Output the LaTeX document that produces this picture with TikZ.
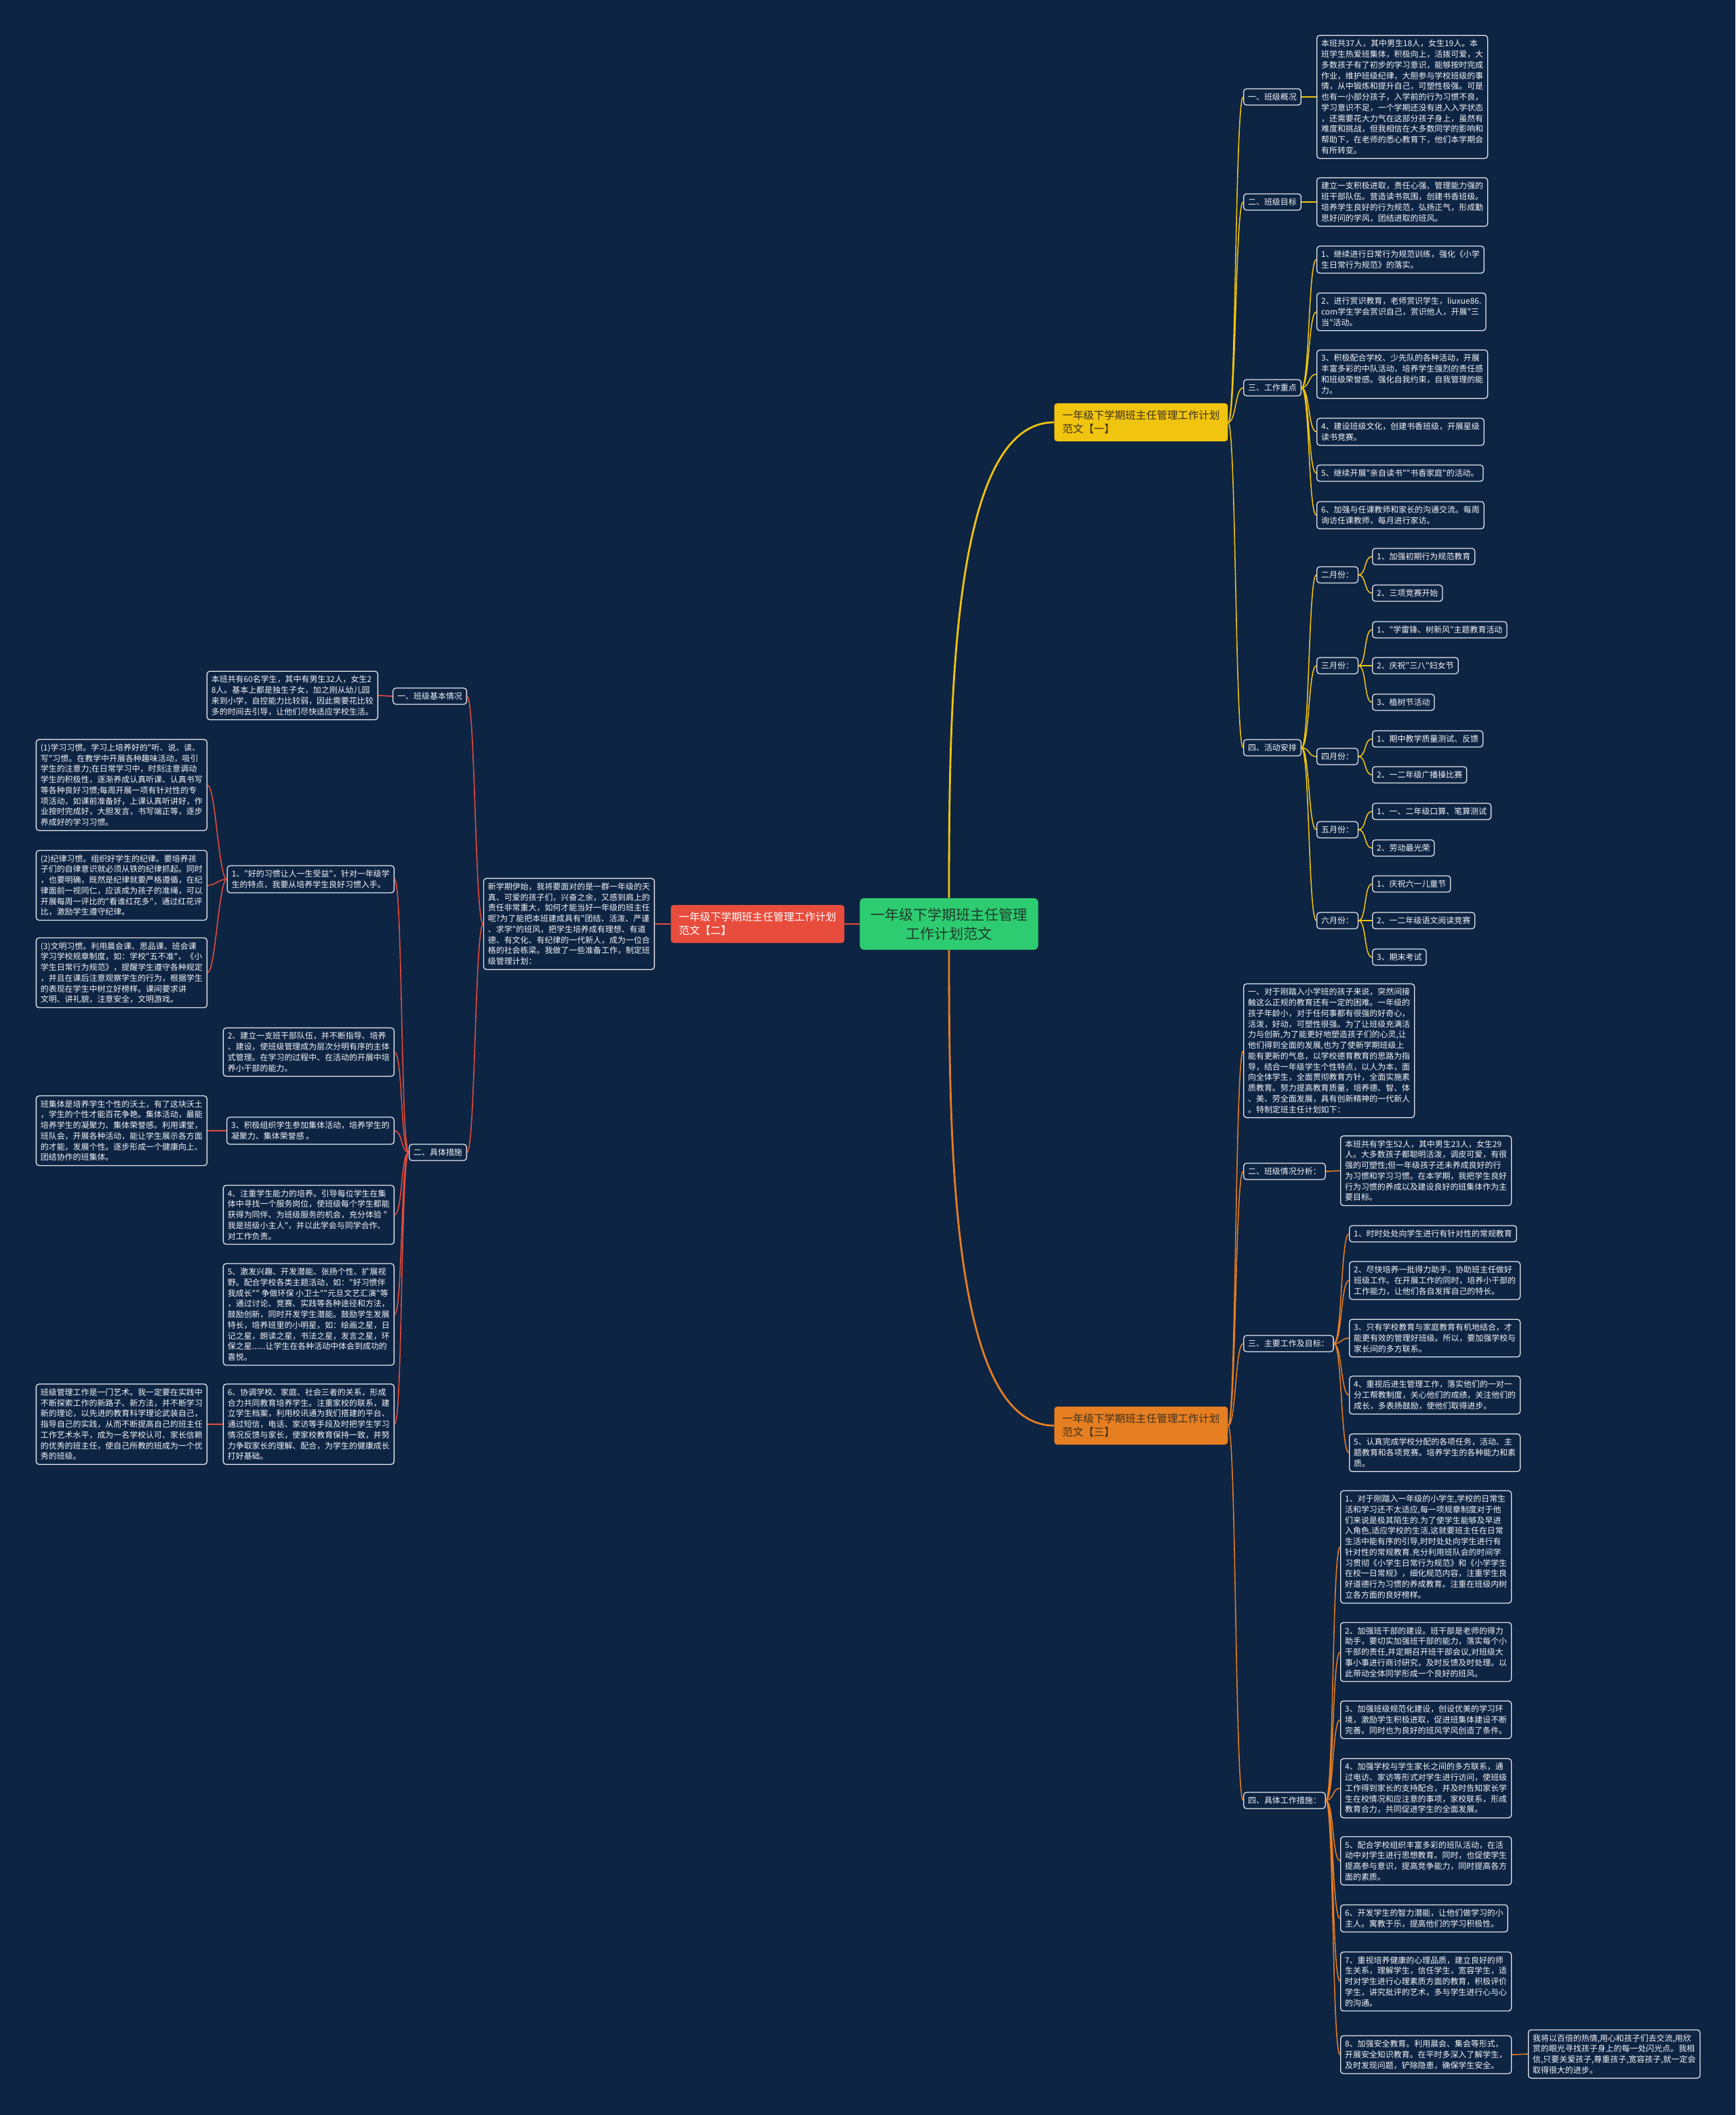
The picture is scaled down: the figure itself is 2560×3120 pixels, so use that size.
\documentclass[tikz,border=0pt]{standalone}
\usepackage{fontspec}
\newfontfamily\cjk{Noto Sans CJK SC}
\newcommand\leaffont{\cjk\fontsize{8.5pt}{11.2pt}\selectfont}
\newcommand\branchfont{\cjk\fontsize{11pt}{14.2pt}\selectfont}
\newcommand\rootfont{\cjk\fontsize{15pt}{19.9pt}\selectfont}

\begin{document}
\begin{tikzpicture}[
  x=0.025cm, y=-0.025cm,
  leaf/.style={draw=boxline, fill=bg, rounded corners=3pt, line width=0.9pt,
               text=leaftext, align=left, inner xsep=4.6pt, inner ysep=4.6pt,
               font=\leaffont},
  branch/.style={fill=#1, rounded corners=3pt, align=left,
                 minimum width=6.4cm, minimum height=1.4cm, font=\branchfont},
  trunk/.style={draw=#1, line width=2pt},
  rlink/.style={draw=#1, line width=1.1pt,
    to path={(\tikztostart.east) .. controls +(12,0) and +(-12,0) .. (\tikztotarget.west)}},
  llink/.style={draw=#1, line width=1.1pt,
    to path={(\tikztostart.west) .. controls +(-12,0) and +(12,0) .. (\tikztotarget.east)}},
]
\definecolor{bg}{HTML}{0E2443}
\definecolor{boxline}{HTML}{E6E9EE}
\definecolor{leaftext}{HTML}{F4F6F8}
\definecolor{rootgreen}{HTML}{2ECC71}
\definecolor{roottext}{HTML}{1E3B2B}
\definecolor{plany}{HTML}{F1C40F}
\definecolor{planr}{HTML}{E74C3C}
\definecolor{plano}{HTML}{E67E22}
\definecolor{darktext}{HTML}{3A3220}

% ── Background ──
\fill[bg] (0,0) rectangle (2560,3120);
\useasboundingbox (0,0) rectangle (2560,3120);

% ── Root ──
\node[fill=rootgreen, rounded corners=4pt, minimum width=6.575cm,
      minimum height=1.9cm, align=center, text=roottext, font=\rootfont]
  (root) at (1400,1363) {一年级下学期班主任管理\\工作计划范文};

% ── Three plans ──
\node[branch=plany, text=darktext, anchor=west] (fa) at (1555,623)
  {一年级下学期班主任管理工作计划\\范文【一】};
\node[branch=planr, text=white, anchor=east] (fb) at (1246,1363)
  {一年级下学期班主任管理工作计划\\范文【二】};
\node[branch=plano, text=darktext, anchor=west] (fc) at (1555,2103)
  {一年级下学期班主任管理工作计划\\范文【三】};

\draw[trunk=plany] (root.north) .. controls +(0,-300) and +(-150,0) .. (fa.west);
\draw[trunk=planr] (root.west) -- (fb.east);
\draw[trunk=plano] (root.south) .. controls +(0,300) and +(-150,0) .. (fc.west);

% ── Plan 一 ──
\node[leaf, anchor=west] (a1) at (1834,143) {一、班级概况};
\node[leaf, anchor=west] (a1t) at (1942,143)
  {本班共37人，其中男生18人，女生19人。本\\
   班学生热爱班集体，积极向上，活拨可爱，大\\
   多数孩子有了初步的学习意识，能够按时完成\\
   作业，维护班级纪律，大胆参与学校班级的事\\
   情，从中锻炼和提升自己，可塑性极强。可是\\
   也有一小部分孩子，入学前的行为习惯不良，\\
   学习意识不足，一个学期还没有进入入学状态\\
   ，还需要花大力气在这部分孩子身上，虽然有\\
   难度和挑战，但我相信在大多数同学的影响和\\
   帮助下，在老师的悉心教育下，他们本学期会\\
   有所转变。};
\node[leaf, anchor=west] (a2) at (1834,298) {二、班级目标};
\node[leaf, anchor=west] (a2t) at (1942,298)
  {建立一支积极进取，责任心强、管理能力强的\\
   班干部队伍。营造读书氛围，创建书香班级。\\
   培养学生良好的行为规范，弘扬正气，形成勤\\
   思好问的学风，团结进取的班风。};
\node[leaf, anchor=west] (a3) at (1834,572) {三、工作重点};
\node[leaf, anchor=west] (a3t1) at (1942,383)
  {1、继续进行日常行为规范训练，强化《小学\\生日常行为规范》的落实。};
\node[leaf, anchor=west] (a3t2) at (1942,460)
  {2、进行赏识教育，老师赏识学生，liuxue86.\\com学生学会赏识自己，赏识他人，开展"三\\当"活动。};
\node[leaf, anchor=west] (a3t3) at (1942,552)
  {3、积极配合学校、少先队的各种活动，开展\\丰富多彩的中队活动，培养学生强烈的责任感\\和班级荣誉感。强化自我约束，自我管理的能\\力。};
\node[leaf, anchor=west] (a3t4) at (1942,637)
  {4、建设班级文化，创建书香班级，开展星级\\读书竞赛。};
\node[leaf, anchor=west] (a3t5) at (1942,698)
  {5、继续开展"亲自读书""书香家庭"的活动。};
\node[leaf, anchor=west] (a3t6) at (1942,760)
  {6、加强与任课教师和家长的沟通交流。每周\\询访任课教师，每月进行家访。};
\node[leaf, anchor=west] (a4) at (1834,1103) {四、活动安排};
\node[leaf, anchor=west] (m2) at (1942,848) {二月份：};
\node[leaf, anchor=west] (m2a) at (2024,821) {1、加强初期行为规范教育};
\node[leaf, anchor=west] (m2b) at (2024,875) {2、三项竞赛开始};
\node[leaf, anchor=west] (m3) at (1942,982) {三月份：};
\node[leaf, anchor=west] (m3a) at (2024,929) {1、"学雷锋、树新风"主题教育活动};
\node[leaf, anchor=west] (m3b) at (2024,982) {2、庆祝"三八"妇女节};
\node[leaf, anchor=west] (m3c) at (2024,1036) {3、植树节活动};
\node[leaf, anchor=west] (m4) at (1942,1116) {四月份：};
\node[leaf, anchor=west] (m4a) at (2024,1090) {1、期中教学质量测试、反馈};
\node[leaf, anchor=west] (m4b) at (2024,1143) {2、一二年级广播操比赛};
\node[leaf, anchor=west] (m5) at (1942,1224) {五月份：};
\node[leaf, anchor=west] (m5a) at (2024,1197) {1、一、二年级口算、笔算测试};
\node[leaf, anchor=west] (m5b) at (2024,1251) {2、劳动最光荣};
\node[leaf, anchor=west] (m6) at (1942,1358) {六月份：};
\node[leaf, anchor=west] (m6a) at (2024,1304) {1、庆祝六一儿童节};
\node[leaf, anchor=west] (m6b) at (2024,1358) {2、一二年级语文阅读竞赛};
\node[leaf, anchor=west] (m6c) at (2024,1412) {3、期末考试};

\draw[rlink=plany] (fa) to (a1) (fa) to (a2) (fa) to (a3) (fa) to (a4);
\draw[rlink=plany] (a1) to (a1t) (a2) to (a2t);
\draw[rlink=plany] (a3) to (a3t1) (a3) to (a3t2) (a3) to (a3t3)
                   (a3) to (a3t4) (a3) to (a3t5) (a3) to (a3t6);
\draw[rlink=plany] (a4) to (m2) (a4) to (m3) (a4) to (m4) (a4) to (m5) (a4) to (m6);
\draw[rlink=plany] (m2) to (m2a) (m2) to (m2b);
\draw[rlink=plany] (m3) to (m3a) (m3) to (m3b) (m3) to (m3c);
\draw[rlink=plany] (m4) to (m4a) (m4) to (m4b);
\draw[rlink=plany] (m5) to (m5a) (m5) to (m5b);
\draw[rlink=plany] (m6) to (m6a) (m6) to (m6b) (m6) to (m6c);

% ── Plan 二 ──
\node[leaf, anchor=east] (bi) at (966,1363)
  {新学期伊始，我将要面对的是一群一年级的天\\
   真、可爱的孩子们，兴奋之余，又感到肩上的\\
   责任非常重大，如何才能当好一年级的班主任\\
   呢?为了能把本班建成具有"团结、活泼、严谨\\
   、求学"的班风，把学生培养成有理想、有道\\
   德、有文化、有纪律的一代新人，成为一位合\\
   格的社会栋梁。我做了一些准备工作，制定班\\
   级管理计划：};
\node[leaf, anchor=east] (b1) at (689,1027) {一、班级基本情况};
\node[leaf, anchor=east] (b1t) at (558,1026)
  {本班共有60名学生，其中有男生32人，女生2\\
   8人。基本上都是独生子女，加之刚从幼儿园\\
   来到小学，自控能力比较弱，因此需要花比较\\
   多的时间去引导，让他们尽快适应学校生活。};
\node[leaf, anchor=east] (b2) at (689,1700) {二、具体措施};
\node[leaf, anchor=east] (b2t1) at (582,1297)
  {1、"好的习惯让人一生受益"，针对一年级学\\
   生的特点，我要从培养学生良好习惯入手。};
\node[leaf, anchor=east] (b2h1) at (306,1158)
  {(1)学习习惯。学习上培养好的"听、说、读、\\
   写"习惯。在教学中开展各种趣味活动，吸引\\
   学生的注意力;在日常学习中，时刻注意调动\\
   学生的积极性，逐渐养成认真听课、认真书写\\
   等各种良好习惯;每周开展一项有针对性的专\\
   项活动，如课前准备好，上课认真听讲好，作\\
   业按时完成好，大胆发言，书写端正等，逐步\\
   养成好的学习习惯。};
\node[leaf, anchor=east] (b2h2) at (306,1306)
  {(2)纪律习惯。组织好学生的纪律。要培养孩\\
   子们的自律意识就必须从铁的纪律抓起。同时\\
   ，也要明确，既然是纪律就要严格遵循，在纪\\
   律面前一视同仁，应该成为孩子的准绳，可以\\
   开展每周一评比的"看谁红花多"，通过红花评\\
   比，激励学生遵守纪律。};
\node[leaf, anchor=east] (b2h3) at (306,1435)
  {(3)文明习惯。利用晨会课、思品课、班会课\\
   学习学校规章制度，如：学校"五不准"，《小\\
   学生日常行为规范》，提醒学生遵守各种规定\\
   ，并且在课后注意观察学生的行为，根据学生\\
   的表现在学生中树立好榜样。课间要求讲\\
   文明、讲礼貌，注意安全，文明游戏。};
\node[leaf, anchor=east] (b2t2) at (582,1552)
  {2、建立一支班干部队伍，并不断指导、培养\\
   、建设，使班级管理成为层次分明有序的主体\\
   式管理。在学习的过程中、在活动的开展中培\\
   养小干部的能力。};
\node[leaf, anchor=east] (b2t3) at (582,1668)
  {3、积极组织学生参加集体活动，培养学生的\\
   凝聚力、集体荣誉感 。};
\node[leaf, anchor=east] (b2t3x) at (306,1668)
  {班集体是培养学生个性的沃土，有了这块沃土\\
   ，学生的个性才能百花争艳。集体活动，最能\\
   培养学生的凝聚力、集体荣誉感。利用课堂，\\
   班队会，开展各种活动，能让学生展示各方面\\
   的才能，发展个性。逐步形成一个健康向上、\\
   团结协作的班集体。};
\node[leaf, anchor=east] (b2t4) at (582,1792)
  {4、注重学生能力的培养。引导每位学生在集\\
   体中寻找一个服务岗位，使班级每个学生都能\\
   获得为同伴、为班级服务的机会，充分体验 "\\
   我是班级小主人"，并以此学会与同学合作、\\
   对工作负责。};
\node[leaf, anchor=east] (b2t5) at (582,1939)
  {5、激发兴趣、开发潜能、张扬个性、扩展视\\
   野。配合学校各类主题活动，如："好习惯伴\\
   我成长"" 争做环保 小卫士""元旦文艺汇演"等\\
   ，通过讨论、竞赛、实践等各种途径和方法，\\
   鼓励创新，同时开发学生潜能。鼓励学生发展\\
   特长，培养班里的小明星，如：绘画之星，日\\
   记之星，朗读之星，书法之星，发言之星，环\\
   保之星......让学生在各种活动中体会到成功的\\
   喜悦。};
\node[leaf, anchor=east] (b2t6) at (582,2101)
  {6、协调学校、家庭、社会三者的关系，形成\\
   合力共同教育培养学生。注重家校的联系，建\\
   立学生档案，利用校讯通为我们搭建的平台、\\
   通过短信，电话、家访等手段及时把学生学习\\
   情况反馈与家长，使家校教育保持一致，并努\\
   力争取家长的理解、配合，为学生的健康成长\\
   打好基础。};
\node[leaf, anchor=east] (b2t6x) at (306,2101)
  {班级管理工作是一门艺术。我一定要在实践中\\
   不断探索工作的新路子、新方法，并不断学习\\
   新的理论，以先进的教育科学理论武装自己，\\
   指导自己的实践，从而不断提高自己的班主任\\
   工作艺术水平，成为一名学校认可、家长信赖\\
   的优秀的班主任，使自己所教的班成为一个优\\
   秀的班级。};

\draw[trunk=planr] (fb.west) -- (bi.east);
\draw[llink=planr] (bi) to (b1) (bi) to (b2);
\draw[llink=planr] (b1) to (b1t);
\draw[llink=planr] (b2) to (b2t1) (b2) to (b2t2) (b2) to (b2t3)
                   (b2) to (b2t4) (b2) to (b2t5) (b2) to (b2t6);
\draw[llink=planr] (b2t1) to (b2h1) (b2t1) to (b2h2) (b2t1) to (b2h3);
\draw[llink=planr] (b2t3) to (b2t3x) (b2t6) to (b2t6x);

% ── Plan 三 ──
\node[leaf, anchor=west] (c1) at (1834,1550)
  {一、对于刚踏入小学班的孩子来说，突然间接\\
   触这么正规的教育还有一定的困难。一年级的\\
   孩子年龄小，对于任何事都有很强的好奇心，\\
   活泼，好动，可塑性很强。为了让班级充满活\\
   力与创新,为了能更好地塑造孩子们的心灵,让\\
   他们得到全面的发展,也为了使新学期班级上\\
   能有更新的气息，以学校德育教育的思路为指\\
   导，结合一年级学生个性特点，以人为本，面\\
   向全体学生，全面贯彻教育方针，全面实施素\\
   质教育。努力提高教育质量，培养德、智、体\\
   、美、劳全面发展，具有创新精神的一代新人\\
   。特制定班主任计划如下：};
\node[leaf, anchor=west] (c2) at (1834,1728) {二、班级情况分析：};
\node[leaf, anchor=west] (c2t) at (1977,1727)
  {本班共有学生52人，其中男生23人，女生29\\
   人。大多数孩子都聪明活泼，调皮可爱，有很\\
   强的可塑性;但一年级孩子还未养成良好的行\\
   为习惯和学习习惯。在本学期，我把学生良好\\
   行为习惯的养成以及建设良好的班集体作为主\\
   要目标。};
\node[leaf, anchor=west] (c3) at (1834,1982) {三、主要工作及目标：};
\node[leaf, anchor=west] (c3t1) at (1990,1820)
  {1、时时处处向学生进行有针对性的常规教育};
\node[leaf, anchor=west] (c3t2) at (1990,1889)
  {2、尽快培养一批得力助手，协助班主任做好\\
   班级工作。在开展工作的同时，培养小干部的\\
   工作能力，让他们各自发挥自己的特长。};
\node[leaf, anchor=west] (c3t3) at (1990,1974)
  {3、只有学校教育与家庭教育有机地结合，才\\
   能更有效的管理好班级。所以，要加强学校与\\
   家长间的多方联系。};
\node[leaf, anchor=west] (c3t4) at (1990,2058)
  {4、重视后进生管理工作，落实他们的一对一\\
   分工帮教制度，关心他们的成绩，关注他们的\\
   成长，多表扬鼓励，使他们取得进步。};
\node[leaf, anchor=west] (c3t5) at (1990,2143)
  {5、认真完成学校分配的各项任务，活动、主\\
   题教育和各项竞赛。培养学生的各种能力和素\\
   质。};
\node[leaf, anchor=west] (c4) at (1834,2656) {四、具体工作措施：};
\node[leaf, anchor=west] (c4t1) at (1977,2282)
  {1、对于刚踏入一年级的小学生,学校的日常生\\
   活和学习还不太适应,每一项规章制度对于他\\
   们来说是极其陌生的.为了使学生能够及早进\\
   入角色,适应学校的生活,这就要班主任在日常\\
   生活中能有序的引导,时时处处向学生进行有\\
   针对性的常规教育.充分利用班队会的时间学\\
   习贯彻《小学生日常行为规范》和《小学学生\\
   在校一日常规》，细化规范内容，注重学生良\\
   好道德行为习惯的养成教育。注重在班级内树\\
   立各方面的良好榜样。};
\node[leaf, anchor=west] (c4t2) at (1977,2437)
  {2、加强班干部的建设。班干部是老师的得力\\
   助手，要切实加强班干部的能力，落实每个小\\
   干部的责任,并定期召开班干部会议,对班级大\\
   事小事进行商讨研究，及时反馈及时处理。以\\
   此带动全体同学形成一个良好的班风。};
\node[leaf, anchor=west] (c4t3) at (1977,2537)
  {3、加强班级规范化建设，创设优美的学习环\\
   境，激励学生积极进取，促进班集体建设不断\\
   完善。同时也为良好的班风学风创造了条件。};
\node[leaf, anchor=west] (c4t4) at (1977,2638)
  {4、加强学校与学生家长之间的多方联系，通\\
   过电访、家访等形式对学生进行访问，使班级\\
   工作得到家长的支持配合，并及时告知家长学\\
   生在校情况和应注意的事项，家校联系，形成\\
   教育合力，共同促进学生的全面发展。};
\node[leaf, anchor=west] (c4t5) at (1977,2745)
  {5、配合学校组织丰富多彩的班队活动，在活\\
   动中对学生进行思想教育。同时，也促使学生\\
   提高参与意识，提高竞争能力，同时提高各方\\
   面的素质。};
\node[leaf, anchor=west] (c4t6) at (1977,2830)
  {6、开发学生的智力潜能，让他们做学习的小\\
   主人。寓教于乐，提高他们的学习积极性。};
\node[leaf, anchor=west] (c4t7) at (1977,2923)
  {7、重视培养健康的心理品质，建立良好的师\\
   生关系，理解学生，信任学生，宽容学生，适\\
   时对学生进行心理素质方面的教育，积极评价\\
   学生，讲究批评的艺术，多与学生进行心与心\\
   的沟通。};
\node[leaf, anchor=west] (c4t8) at (1977,3031)
  {8、加强安全教育。利用晨会、集会等形式，\\
   开展安全知识教育。在平时多深入了解学生，\\
   及时发现问题，铲除隐患，确保学生安全。};
\node[leaf, anchor=west] (c4t8x) at (2254,3030)
  {我将以百倍的热情,用心和孩子们去交流,用欣\\
   赏的眼光寻找孩子身上的每一处闪光点。我相\\
   信,只要关爱孩子,尊重孩子,宽容孩子,就一定会\\
   取得很大的进步。};

\draw[rlink=plano] (fc) to (c1) (fc) to (c2) (fc) to (c3) (fc) to (c4);
\draw[rlink=plano] (c2) to (c2t);
\draw[rlink=plano] (c3) to (c3t1) (c3) to (c3t2) (c3) to (c3t3)
                   (c3) to (c3t4) (c3) to (c3t5);
\draw[rlink=plano] (c4) to (c4t1) (c4) to (c4t2) (c4) to (c4t3) (c4) to (c4t4)
                   (c4) to (c4t5) (c4) to (c4t6) (c4) to (c4t7) (c4) to (c4t8);
\draw[rlink=plano] (c4t8) to (c4t8x);

\end{tikzpicture}
\end{document}
